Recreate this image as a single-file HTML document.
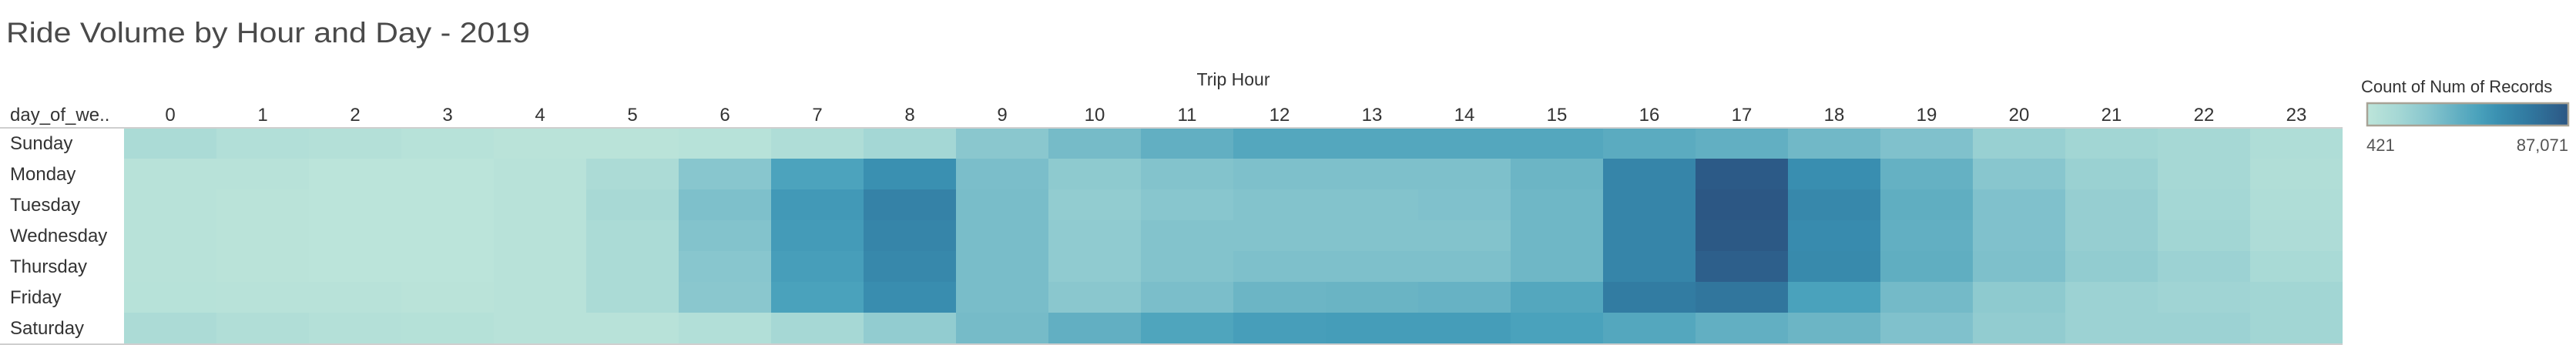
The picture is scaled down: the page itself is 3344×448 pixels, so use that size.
<!DOCTYPE html>
<html><head><meta charset="utf-8"><style>
html,body{margin:0;padding:0;background:#fff;width:3344px;height:448px;overflow:hidden}
svg{display:block;font-family:"Liberation Sans",sans-serif}
</style></head><body>
<svg id="chart" width="3344" height="448" viewBox="0 0 3344 448">
<text x="8" y="55" font-size="37" fill="#4a4a4a" textLength="680" lengthAdjust="spacingAndGlyphs">Ride Volume by Hour and Day - 2019</text>
<text x="1601" y="111" font-size="23" fill="#333" text-anchor="middle">Trip Hour</text>
<text x="13" y="157" font-size="24" fill="#333">day_of_we..</text>
<g id="cells"></g>
<g id="xlabels"></g>
<g id="ylabels"></g>
<rect x="0" y="165" width="3041" height="2" fill="#cfcfcf"/>
<rect x="0" y="446" width="3041" height="2" fill="#cfcfcf"/>
<text x="3065" y="120" font-size="22" fill="#333">Count of Num of Records</text>
<defs><linearGradient id="lg" x1="0" x2="1" y1="0" y2="0">
<stop offset="0" stop-color="#bde5da"/><stop offset="0.15" stop-color="#a6d8d5"/><stop offset="0.3" stop-color="#88c6ce"/><stop offset="0.45" stop-color="#62afc2"/><stop offset="0.55" stop-color="#4aa2bc"/><stop offset="0.65" stop-color="#3a90b1"/><stop offset="0.8" stop-color="#3179a0"/><stop offset="1" stop-color="#2c5784"/>
</linearGradient></defs>
<rect x="3073" y="134" width="261" height="29" fill="url(#lg)" stroke="#a8a396" stroke-width="2.5"/>
<text id="lmin" x="3072" y="196" font-size="22" fill="#555"></text>
<text id="lmax" x="3334" y="196" font-size="22" fill="#555" text-anchor="end"></text>
</svg>
<script>
const hours = ["0","1","2","3","4","5","6","7","8","9","10","11","12","13","14","15","16","17","18","19","20","21","22","23"];
const days = ["Sunday","Monday","Tuesday","Wednesday","Thursday","Friday","Saturday"];
const sunday =    [10820,6490,5620,3890,2150,2150,3890,8220,14280,25550,32480,39410,44610,44610,44610,44610,42010,39410,34210,29020,19480,15150,13420,8220];
const monday =    [3020,3020,1300,1300,3020,9950,26420,47210,56740,30750,23820,28150,29880,29880,29880,35950,62810,85340,57610,38550,26420,18620,13420,7350];
const tuesday =   [3020,2150,1300,1300,3020,12550,29880,52410,64540,31620,22080,26420,28150,28150,29020,35080,62810,87071,61080,40280,29020,20350,14280,8220];
const wednesday = [3020,2150,1300,1300,3020,10820,28150,51540,62810,31620,22950,28150,28150,28150,28150,35080,62810,86200,59340,39410,29020,20350,15150,9090];
const thursday =  [3020,2150,1300,1300,3020,10820,26420,49810,61080,31620,22950,28150,29880,29880,29880,35080,62810,82740,60210,40280,29880,22080,17750,11690];
const friday =    [3890,3020,3020,2150,3020,10820,25550,48080,58480,31620,25550,30750,35950,36810,37680,44610,68010,71470,48080,33350,23820,17750,16020,15150];
const saturday =  [9950,7350,5620,4750,3020,3020,6490,13420,22080,32480,39410,46350,49810,50680,50680,48080,44610,39410,35950,29020,22080,17750,17750,15150];
const series = [sunday,monday,tuesday,wednesday,thursday,friday,saturday];
const minVal = 421, maxVal = 87071;

const X0 = 161, CW = 120, Y0 = 166, RH = 40;
const xPos = i => X0 + i*CW;
const yPos = j => Y0 + j*RH;
const stops = [[0,[189,229,218]],[0.15,[166,216,213]],[0.3,[136,198,206]],[0.45,[98,175,194]],[0.55,[74,162,188]],[0.65,[58,144,177]],[0.8,[49,121,160]],[1,[44,87,132]]];
function color(v){
  let t = Math.max(0,Math.min(1,(v-minVal)/(maxVal-minVal)));
  for(let k=1;k<stops.length;k++){
    if(t<=stops[k][0]){
      const a=stops[k-1], b=stops[k], f=(t-a[0])/(b[0]-a[0]);
      const c=a[1].map((x,i)=>Math.round(x+(b[1][i]-x)*f));
      return `rgb(${c[0]},${c[1]},${c[2]})`;
    }
  }
  return 'rgb(44,87,132)';
}
const NS="http://www.w3.org/2000/svg";
const cells=document.getElementById('cells');
series.forEach((row,j)=>{
  row.forEach((v,i)=>{
    const r=document.createElementNS(NS,'rect');
    r.setAttribute('x',xPos(i));r.setAttribute('y',yPos(j));
    r.setAttribute('width',CW);r.setAttribute('height',RH);
    r.setAttribute('fill',color(v));
    
    
    cells.appendChild(r);
  });
});
const xl=document.getElementById('xlabels');
hours.forEach((h,i)=>{
  const t=document.createElementNS(NS,'text');
  t.setAttribute('x',xPos(i)+CW/2);t.setAttribute('y',157);
  t.setAttribute('text-anchor','middle');t.setAttribute('font-size','24');t.setAttribute('fill','#333');
  t.textContent=h;
  
  
  xl.appendChild(t);
});
const yl=document.getElementById('ylabels');
days.forEach((d,j)=>{
  const t=document.createElementNS(NS,'text');
  t.setAttribute('x',13);t.setAttribute('y',yPos(j)+RH/2+8);
  t.setAttribute('font-size','24');t.setAttribute('fill','#333');
  t.textContent=d;
  
  
  yl.appendChild(t);
});
document.getElementById('lmin').textContent=minVal.toLocaleString('en-US');
document.getElementById('lmax').textContent=maxVal.toLocaleString('en-US');
</script>
</body></html>
